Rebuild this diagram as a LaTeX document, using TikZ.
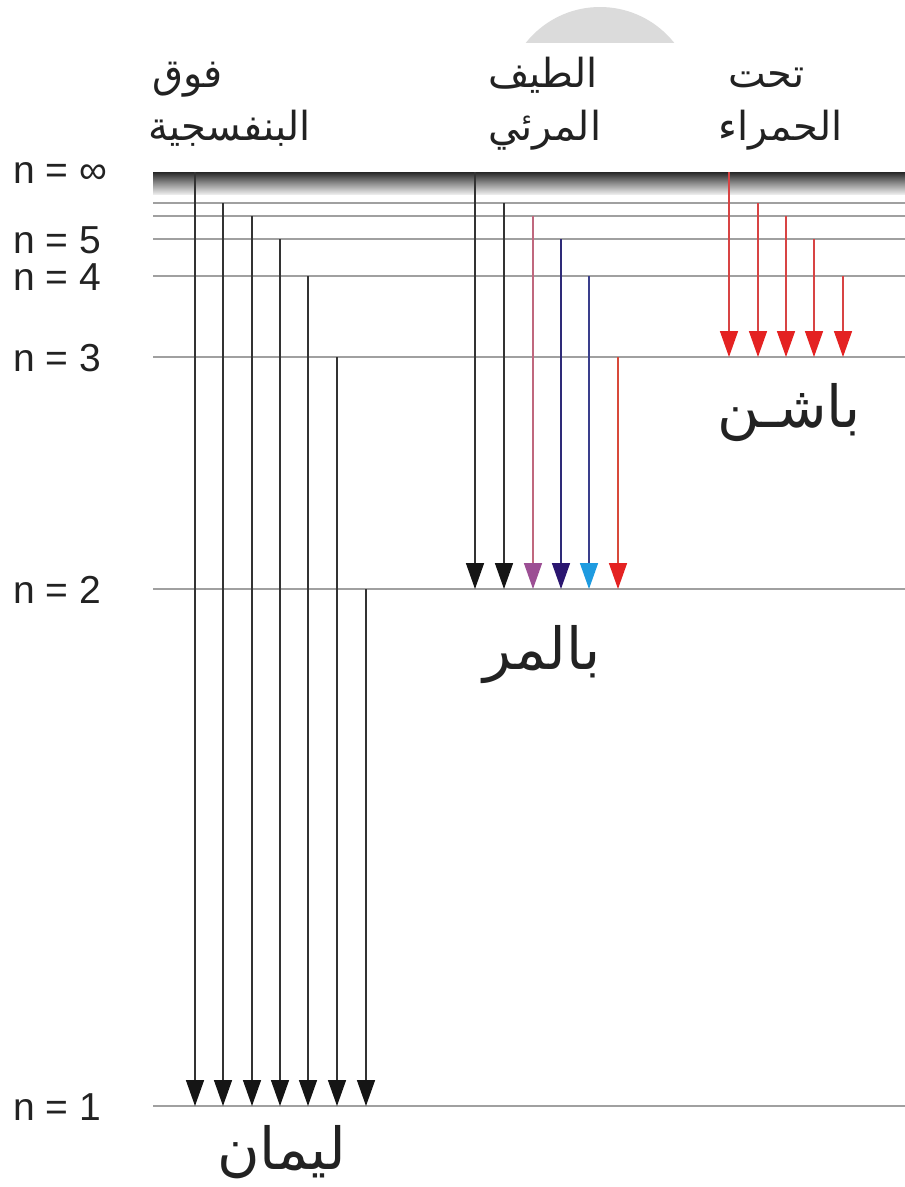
\documentclass[tikz,border=0pt]{standalone}
\usepackage{fontspec}
\setmainfont{Liberation Sans}
\newfontfamily\arabicfont[Script=Arabic]{DejaVu Sans}
\TeXXeTstate=1
\usetikzlibrary{arrows.meta}
\definecolor{lvlc}{HTML}{A0A0A0}
\definecolor{txt}{HTML}{222222}
\definecolor{dk}{HTML}{333333}
\definecolor{dktip}{HTML}{151515}
\definecolor{pinkline}{HTML}{C0687E}
\definecolor{mauve}{HTML}{9C4F94}
\definecolor{navyline}{HTML}{2E2A78}
\definecolor{navy}{HTML}{2B1670}
\definecolor{blueline}{HTML}{3A3F8C}
\definecolor{sky}{HTML}{1E9BE0}
\definecolor{redline}{HTML}{D84A3A}
\definecolor{redtip}{HTML}{E42222}
\definecolor{pasline}{HTML}{D84444}
\begin{document}
\begin{tikzpicture}[x=1pt,y=-1pt,
  lvl/.style={draw=lvlc, line width=1.4pt},
  tr/.style={line width=1.5pt},
  nlab/.style={anchor=base west, inner sep=0pt, text=txt, font=\fontsize{39}{39}\selectfont},
  artop/.style={anchor=base west, inner sep=0pt, text=txt, font=\arabicfont\fontsize{40}{40}\selectfont},
  arbig/.style={anchor=base west, inner sep=0pt, text=txt, font=\arabicfont\fontsize{58}{58}\selectfont}]
\useasboundingbox (0,0) rectangle (905,1187);
\fill[white] (0,0) rectangle (905,1187);
% grey segment at top
\begin{scope}
  \clip (500,0) rectangle (700,42);
  \fill[black!14] (600,101.7) circle (94.7pt);
\end{scope}
% infinity band
\coordinate (Linf) at (153,172);
\coordinate (Rinf) at (905,194);
\shade[top color=black!85, bottom color=black!8, middle color=black!45] (Linf) rectangle (Rinf);
% levels
\foreach \y/\n in {203/7, 216/6, 239/5, 276/4, 357/3, 589/2, 1106/1} {
  \coordinate (L\n) at (153,\y);
  \coordinate (R\n) at (905,\y);
  \draw[lvl] (L\n) -- (R\n);
}
% level labels
\node[nlab] (ninf) at (13,183) {n = ∞};
\node[nlab] (n5) at (13,253) {n = 5};
\node[nlab] (n4) at (13,290) {n = 4};
\node[nlab] (n3) at (13,371) {n = 3};
\node[nlab] (n2) at (13,603) {n = 2};
\node[nlab] (n1) at (13,1120) {n = 1};
% Lyman
\foreach \x/\y [count=\i] in {195/172, 223/203, 252/216, 280/239, 308/276, 337/357, 366/589} {
  \coordinate (lya\i) at (\x,\y);
  \coordinate (lyb\i) at (\x,1106);
  \draw[tr, draw=dk, -{Triangle[width=18pt,length=26pt,color=dktip]}] (lya\i) -- (lyb\i);
}
% Balmer
\foreach \x/\y/\lc/\tc [count=\i] in {475/172/dk/dktip, 504/203/dk/dktip, 533/216/pinkline/mauve, 561/239/navyline/navy, 589/276/blueline/sky, 618/357/redline/redtip} {
  \coordinate (baa\i) at (\x,\y);
  \coordinate (bab\i) at (\x,589);
  \draw[tr, draw=\lc, -{Triangle[width=18pt,length=26pt,color=\tc]}] (baa\i) -- (bab\i);
}
% Paschen
\foreach \x/\y [count=\i] in {729/172, 758/203, 786/216, 814/239, 843/276} {
  \coordinate (paa\i) at (\x,\y);
  \coordinate (pab\i) at (\x,357);
  \draw[tr, draw=pasline, -{Triangle[width=18pt,length=26pt,color=redtip]}] (paa\i) -- (pab\i);
}
% top labels
\node[artop] (uv1) at (152,87) {\beginR فوق\endR};
\node[artop] (uv2) at (148,140) {\beginR البنفسجية\endR};
\node[artop] (vis1) at (488,87) {\beginR الطيف\endR};
\node[artop] (vis2) at (488,140) {\beginR المرئي\endR};
\node[artop] (ir1) at (728,87) {\beginR تحت\endR};
\node[artop] (ir2) at (718,140) {\beginR الحمراء\endR};
% series names
\node[arbig] (paschen) at (717,427) {\beginR باشـن\endR};
\node[arbig] (balmer) at (483,669) {\beginR بالمر\endR};
\node[arbig] (lyman) at (217,1169) {\beginR ليمان\endR};
\end{tikzpicture}
\end{document}
